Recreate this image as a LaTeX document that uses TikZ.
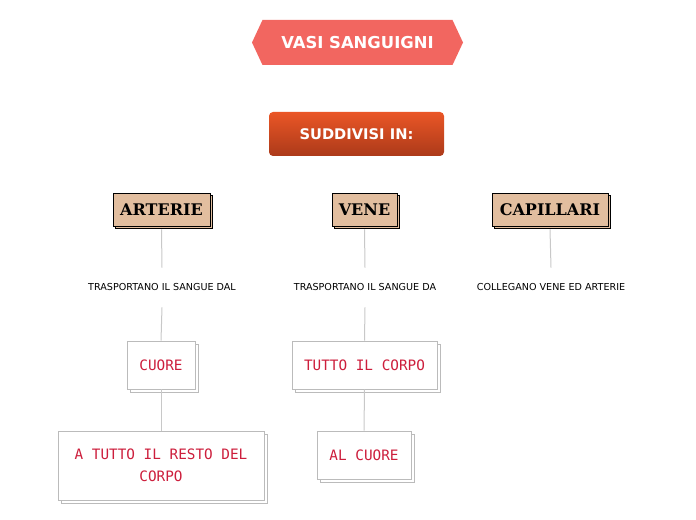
\documentclass[tikz,border=0pt]{standalone}
\usepackage{fontspec}
\usepackage{tikz}
\setmainfont{DejaVu Sans}
\newfontfamily\monofont{DejaVu Sans Mono}
\newfontfamily\headfont{DejaVu Serif}
\usetikzlibrary{shapes.symbols}
\usetikzlibrary{shadows}

\definecolor{titlered}{RGB}{242,102,96}
\definecolor{subtop}{RGB}{234,86,38}
\definecolor{subbot}{RGB}{172,58,26}
\definecolor{tan}{RGB}{226,190,159}
\definecolor{linegray}{RGB}{200,200,200}
\definecolor{boxgray}{RGB}{187,187,187}
\definecolor{crimson}{RGB}{205,30,60}

\tikzset{
  titlebox/.style={signal, signal to=west and east, signal pointer angle=130, fill=titlered, draw=none, text=white, font=\bfseries\fontsize{12.3}{14}\selectfont, minimum width=158.25pt, minimum height=33.75pt, inner sep=0pt},
  subbox/.style={rounded corners=3pt, top color=subtop, bottom color=subbot, draw=none, text=white, font=\bfseries\fontsize{11}{13}\selectfont, minimum width=131.25pt, minimum height=33pt},
  catbox/.style={draw=black, fill=tan, line width=0.6pt, font=\headfont\bfseries\fontsize{12}{14}\selectfont, minimum height=24.75pt, inner sep=0pt, copy shadow={shadow xshift=2pt, shadow yshift=-2pt, draw=black, fill=tan}},
  notetext/.style={font=\fontsize{7.2}{8}\selectfont, inner sep=1pt, minimum height=29.25pt},
  leafbox/.style={draw=boxgray, fill=white, line width=0.6pt, text=crimson, font=\monofont\fontsize{10.75}{16.5}\selectfont, align=center, inner sep=0pt, copy shadow={shadow xshift=2.25pt, shadow yshift=-2.25pt, draw=boxgray, fill=white}},
  link/.style={draw=linegray, line width=0.75pt}
}

\begin{document}
\begin{tikzpicture}[x=0.75pt,y=0.75pt,yscale=-1,xscale=1]
\useasboundingbox (0,0) rectangle (696,520);

% Title
\node [titlebox] (title) at (357.5,42.5) {VASI SANGUIGNI};
\node [subbox] (subd) at (356.5,134) {SUDDIVISI IN:};

% Categories
\node [catbox, minimum width=72.75pt] (arterie) at (161.5,209.5) {ARTERIE};
\node [catbox, minimum width=48.75pt] (vene) at (364.5,209.5) {VENE};
\node [catbox, minimum width=87pt] (capillari) at (550,209.5) {CAPILLARI};

% Descriptions
\node [notetext] (artnote) at (162,287.5) {TRASPORTANO IL SANGUE DAL};
\node [notetext] (venenote) at (365,287.5) {TRASPORTANO IL SANGUE DA};
\node [notetext] (capnote) at (551,287.5) {COLLEGANO VENE ED ARTERIE};

% Leaves
\node [leafbox, minimum width=51pt, minimum height=36pt] (cuore) at (161,365) {CUORE};
\node [leafbox, minimum width=154.5pt, minimum height=51.75pt] (resto) at (161,465.5) {A TUTTO IL RESTO DEL\\CORPO};
\node [leafbox, minimum width=108.75pt, minimum height=36pt] (corpo) at (364.5,365) {TUTTO IL CORPO};
\node [leafbox, minimum width=70.5pt, minimum height=36pt] (alcuore) at (364,455) {AL CUORE};

% Connectors
\draw [link] (arterie.south) ++(0,3) -- (artnote.north);
\draw [link] (artnote.south) -- (cuore.north);
\draw [link] (cuore.south) -- (resto.north);
\draw [link] (vene.south) ++(0,3) -- (venenote.north);
\draw [link] (venenote.south) -- (corpo.north);
\draw [link] (corpo.south) -- (alcuore.north);
\draw [link] (capillari.south) ++(0,3) -- (capnote.north);

\end{tikzpicture}
\end{document}
